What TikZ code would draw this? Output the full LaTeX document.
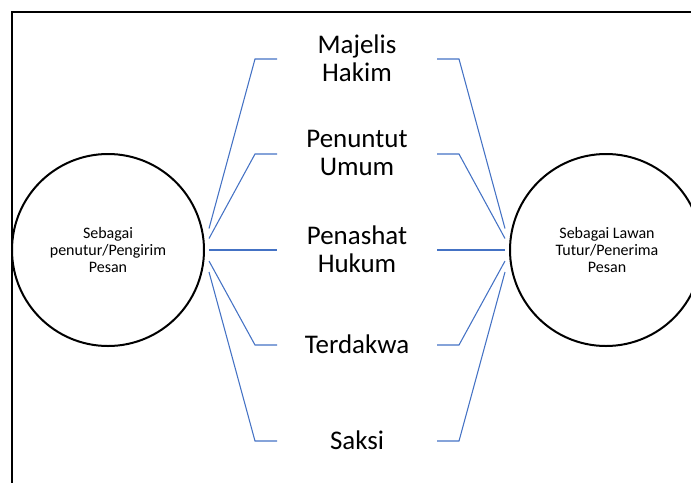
\documentclass[tikz,border=0pt]{standalone}
\usepackage{fontspec}
\setmainfont{Carlito}
\definecolor{lineblue}{HTML}{4472C4}
\begin{document}
\begin{tikzpicture}[x=0.75pt,y=-0.75pt,
  frame/.style={line width=1.5pt,draw=black},
  party/.style={circle,draw=black,line width=1.5pt,minimum size=192*0.75pt,inner sep=0pt},
  partytext/.style={align=center,font=\fontsize{12pt}{12.4pt}\selectfont,inner sep=0pt},
  role/.style={align=center,font=\fontsize{20.2pt}{21pt}\selectfont,inner sep=0pt},
  conn/.style={draw=lineblue,line width=0.8pt}]
\useasboundingbox (0,0) rectangle (691,482);
\clip (0,0) rectangle (691,482);
% frame
\coordinate (fb) at (11.5,490);
\coordinate (fc) at (11.5,11.5);
\coordinate (fr) at (700,11.5);
\draw[frame] (fb) -- (fc) -- (fr);
% parties
\node[party] (L) at (108,250) {};
\node[party] (R) at (606,250) {};
\node[partytext] (Lt) at (108,250) {Sebagai\\penutur/Pengirim\\Pesan};
\node[partytext] (Rt) at (607,250) {Sebagai Lawan\\Tutur/Penerima\\Pesan};
% roles
\node[role] (r1) at (357,58) {Majelis\\Hakim};
\node[role] (r2) at (357,153) {Penuntut\\Umum};
\node[role] (r3) at (357,249) {Penashat\\Hukum};
\node[role] (r4) at (357,344) {Terdakwa};
\node[role] (r5) at (357,440) {Saksi};
% left connector points
\coordinate (ls1) at (209,228.5);
\coordinate (ls2) at (209,238.5);
\coordinate (ls3) at (209,250);
\coordinate (ls4) at (209,261);
\coordinate (ls5) at (209,272);
\coordinate (lc1) at (255,59);
\coordinate (lc2) at (255,154);
\coordinate (lc4) at (255,345);
\coordinate (lc5) at (255,441);
\coordinate (le1) at (277,59);
\coordinate (le2) at (277,154);
\coordinate (le3) at (277,250);
\coordinate (le4) at (277,345);
\coordinate (le5) at (277,441);
% right connector points
\coordinate (rs1) at (505,228.5);
\coordinate (rs2) at (505,238.5);
\coordinate (rs3) at (505,250);
\coordinate (rs4) at (505,261);
\coordinate (rs5) at (505,272);
\coordinate (rc1) at (459,59);
\coordinate (rc2) at (459,154);
\coordinate (rc4) at (459,345);
\coordinate (rc5) at (459,441);
\coordinate (re1) at (437,59);
\coordinate (re2) at (437,154);
\coordinate (re3) at (437,250);
\coordinate (re4) at (437,345);
\coordinate (re5) at (437,441);
\draw[conn] (ls1) -- (lc1) -- (le1);
\draw[conn] (ls2) -- (lc2) -- (le2);
\draw[conn] (ls3) -- (le3);
\draw[conn] (ls4) -- (lc4) -- (le4);
\draw[conn] (ls5) -- (lc5) -- (le5);
\draw[conn] (re1) -- (rc1) -- (rs1);
\draw[conn] (re2) -- (rc2) -- (rs2);
\draw[conn] (re3) -- (rs3);
\draw[conn] (re4) -- (rc4) -- (rs4);
\draw[conn] (re5) -- (rc5) -- (rs5);
\end{tikzpicture}
\end{document}
